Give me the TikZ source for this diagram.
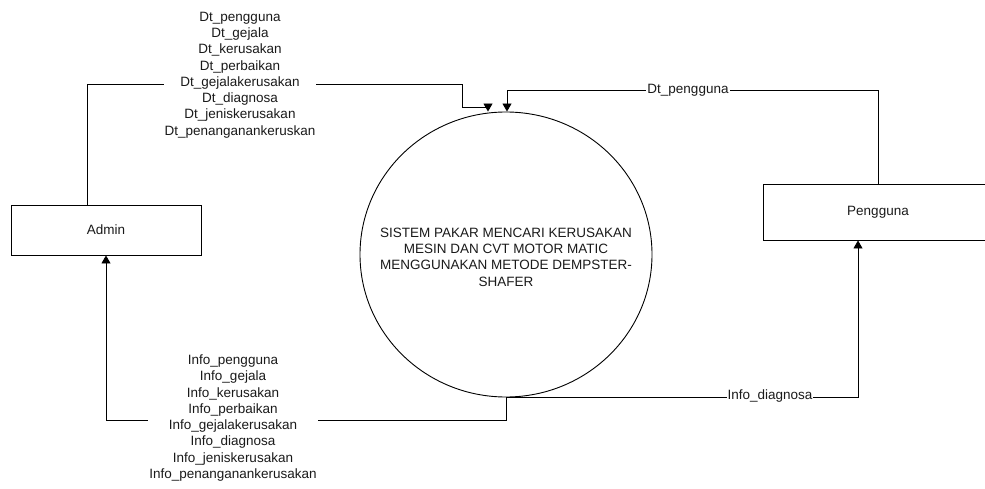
\documentclass[tikz,border=0pt]{standalone}
\usepackage{fontspec}
\setmainfont{Liberation Sans}
\usetikzlibrary{arrows.meta,shapes.geometric}
\definecolor{garis}{HTML}{000000}
\definecolor{teks}{HTML}{1A1A1A}

\begin{document}
\begin{tikzpicture}[x=1pt,y=-1pt,
  every node/.style={font=\fontsize{13.5}{16.3}\selectfont, color=teks},
  entitas/.style={draw=garis, line width=0.9pt, inner sep=0pt},
  proses/.style={ellipse, draw=garis, line width=0.9pt, minimum width=292pt,
    minimum height=285pt, inner sep=0pt},
  alur/.style={draw=garis, line width=0.9pt, -{Triangle[width=9pt,length=8pt]}},
  ket/.style={fill=white, inner sep=1pt, align=center}]
  \useasboundingbox (0,0) rectangle (985,489);
  \node[entitas, minimum width=190pt, minimum height=50pt] (admin) at (106,230) {Admin};
  \node[entitas, minimum width=230pt, minimum height=56pt] (pengguna) at (878,212) {Pengguna};
  \node[proses] (sistem) at (506,254.5) {};
  \node[align=center] (judul) at (506,257)
        {SISTEM PAKAR MENCARI KERUSAKAN\\MESIN DAN CVT MOTOR MATIC\\MENGGUNAKAN METODE DEMPSTER-\\SHAFER};
  \draw[alur] ([xshift=-19pt]admin.north) |- (462,84) |- (488,107) -- ([xshift=-18pt]sistem.north);
  \node[ket] (dtadmin) at (240,75)
        {Dt\_pengguna\\Dt\_gejala\\Dt\_kerusakan\\Dt\_perbaikan\\Dt\_gejalakerusakan\\Dt\_diagnosa\\Dt\_jeniskerusakan\\Dt\_penanganankeruskan};
  \draw[alur] (pengguna.north) |- (507,90) -- ([xshift=1pt]sistem.north);
  \node[ket] (dtpengguna) at (688,90) {Dt\_pengguna};
  \draw[alur] (sistem.south) -- ++(0,23) -| (admin.south);
  \node[ket] (infoadmin) at (233,418)
        {Info\_pengguna\\Info\_gejala\\Info\_kerusakan\\Info\_perbaikan\\Info\_gejalakerusakan\\Info\_diagnosa\\Info\_jeniskerusakan\\Info\_penanganankerusakan};
  \draw[alur] (sistem.south) -| ([xshift=-20pt]pengguna.south);
  \node[ket] (infopengguna) at (770,396) {Info\_diagnosa};
\end{tikzpicture}
\end{document}
